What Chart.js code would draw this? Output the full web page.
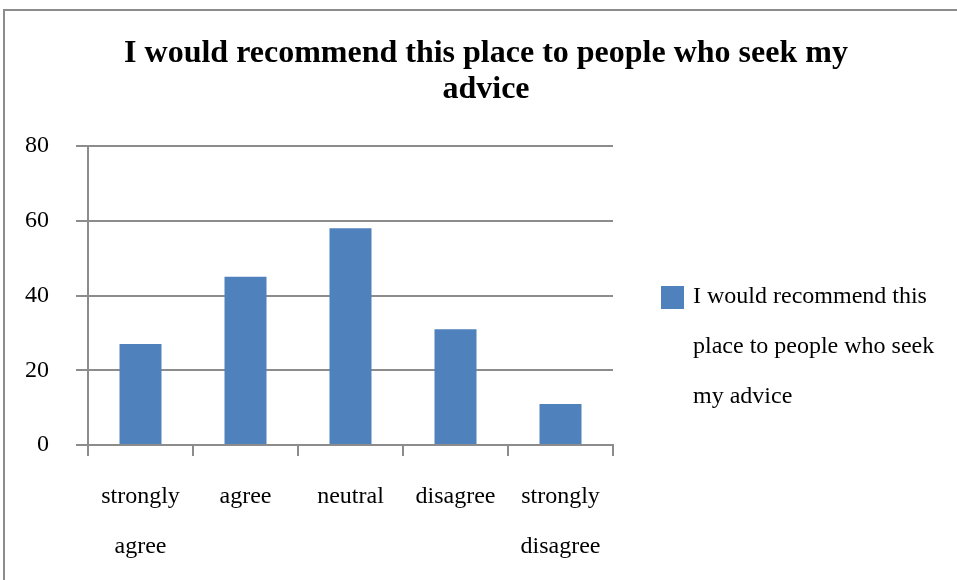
<!DOCTYPE html>
<html>
<head>
<meta charset="utf-8">
<script src="https://cdn.jsdelivr.net/npm/chart.js@4/dist/chart.umd.min.js"></script>
<style>
  html, body { margin: 0; padding: 0; background: #fff; }
  #wrap { width: 957px; height: 580px; position: relative; }
</style>
</head>
<body>
<div id="wrap"><canvas id="surveyChart"></canvas></div>
<script>
const categories = [['strongly', 'agree'], 'agree', 'neutral', 'disagree', ['strongly', 'disagree']];
const responses = [27, 45, 58, 31, 11];
const yTicks = [0, 20, 40, 60, 80];
const seriesName = 'I would recommend this place to people who seek my advice';
const titleLines = ['I would recommend this place to people who seek my', 'advice'];

const serif = '"Liberation Serif", "Times New Roman", serif';
const barBlue = '#4f81bd';
const lineGray = '#8c8c8c';

// frame round the whole chart
const framePlugin = {
  id: 'frame',
  beforeDraw(chart) {
    const ctx = chart.ctx;
    ctx.save();
    ctx.strokeStyle = '#8c8c8c';
    ctx.lineWidth = 2;
    ctx.strokeRect(4, 10, chart.width + 20, chart.height + 20);
    ctx.restore();
  }
};

// legend on the right, with the long label wrapped over several lines
const sideLegend = {
  id: 'sideLegend',
  afterDraw(chart) {
    const ctx = chart.ctx;
    const ds = chart.data.datasets[0];
    const x = chart.chartArea.right + 48;
    const maxWidth = 255;
    const lineH = 50;
    ctx.save();
    ctx.font = '24px ' + serif;
    const words = ds.label.split(' ');
    const lines = [];
    let cur = '';
    words.forEach(w => {
      const test = cur ? cur + ' ' + w : w;
      if (ctx.measureText(test).width > maxWidth && cur) {
        lines.push(cur);
        cur = w;
      } else {
        cur = test;
      }
    });
    if (cur) lines.push(cur);
    const firstY = 297;
    ctx.fillStyle = ds.backgroundColor;
    ctx.fillRect(x, firstY - 11, 23, 23);
    ctx.fillStyle = '#000';
    ctx.textBaseline = 'middle';
    lines.forEach((l, i) => ctx.fillText(l, x + 32, firstY + i * lineH));
    ctx.restore();
  }
};

new Chart(document.getElementById('surveyChart'), {
  type: 'bar',
  data: {
    labels: categories,
    datasets: [{
      label: seriesName,
      data: responses,
      backgroundColor: barBlue,
      barPercentage: 0.4,
      categoryPercentage: 1.0
    }]
  },
  options: {
    responsive: true,
    maintainAspectRatio: false,
    animation: false,
    layout: { padding: { left: 25, right: 10, top: 26, bottom: 8 } },
    scales: {
      x: {
        afterFit(scale) { scale.height = 127; },
        grid: {
          offset: true,
          drawOnChartArea: false,
          drawTicks: true,
          tickLength: 11,
          color: lineGray,
          lineWidth: 2
        },
        border: { display: true, color: lineGray, width: 2 },
        ticks: {
          color: '#000',
          padding: 16,
          maxRotation: 0,
          autoSkip: false,
          font: { family: serif, size: 24, lineHeight: 50 / 24 }
        }
      },
      y: {
        min: 0,
        max: 80,
        afterBuildTicks(scale) {
          scale.ticks = yTicks.map(v => ({ value: v }));
        },
        afterFit(scale) { scale.width = 63; },
        grid: {
          color: lineGray,
          lineWidth: 2,
          tickLength: 12
        },
        border: { display: true, color: lineGray, width: 2 },
        ticks: {
          color: '#000',
          padding: 27,
          font: { family: serif, size: 24 }
        }
      },
      // empty axis that keeps room for the legend on the right
      legendSpace: {
        type: 'linear',
        position: 'right',
        afterFit(scale) { scale.width = 334; },
        grid: { display: false },
        border: { display: false },
        ticks: { display: false }
      }
    },
    plugins: {
      legend: { display: false },
      tooltip: { enabled: false },
      title: {
        display: true,
        text: titleLines,
        color: '#000',
        padding: { top: 10, bottom: 38 },
        font: { family: serif, size: 32, weight: 'bold', lineHeight: 36 / 32 }
      }
    }
  },
  plugins: [framePlugin, sideLegend]
});
</script>
</body>
</html>
